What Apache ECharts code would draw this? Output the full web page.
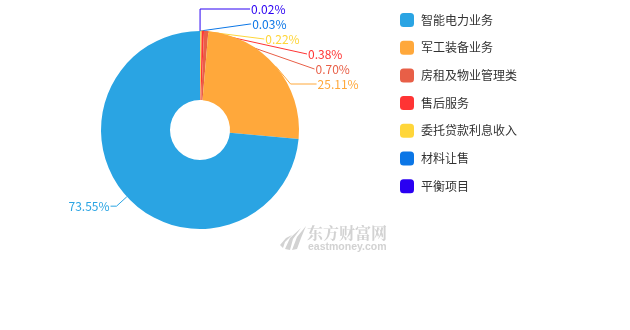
<!DOCTYPE html>
<html>
<head>
<meta charset="utf-8">
<script src="https://cdn.jsdelivr.net/npm/echarts@6/dist/echarts.min.js"></script>
<style>
  html, body { margin: 0; padding: 0; background: #fff; }
  #chart { width: 630px; height: 330px; }
</style>
</head>
<body>
<div id="chart"></div>
<script>
// Revenue composition by business line (share of total, %)
const categories = ['平衡项目', '材料让售', '委托贷款利息收入', '售后服务', '房租及物业管理类', '军工装备业务', '智能电力业务'];
const shares = [0.02, 0.03, 0.22, 0.38, 0.70, 25.11, 73.55];
const legendOrder = ['智能电力业务', '军工装备业务', '房租及物业管理类', '售后服务', '委托贷款利息收入', '材料让售', '平衡项目'];

// Slice colours, in the same order as the categories
const colors = ['#2a00f2', '#0b76e6', '#ffd63a', '#ff3434', '#e85f47', '#ffa83b', '#2aa4e3'];
// Leader-line segment lengths [length, length2] per slice, fanning the crowded small labels
const leaderLines = [[22, 50], [7, 1], [0, 0], [0, 31], [0, 30], [0, 26], [14, 6]];

const FONT = '"Microsoft YaHei", "Noto Sans CJK SC", sans-serif';
const MARK_GRAY = '#d2d2d2';

const chart = echarts.init(document.getElementById('chart'), null, { renderer: 'canvas' });

const pieData = categories.map((name, i) => ({
  name: name,
  value: shares[i],
  itemStyle: { color: colors[i] },
  label: { color: colors[i] },
  labelLine: {
    length: leaderLines[i][0],
    length2: leaderLines[i][1],
    lineStyle: { color: colors[i] }
  }
}));

chart.setOption({
  animation: false,
  textStyle: { fontFamily: FONT },
  legend: {
    orient: 'vertical',
    left: 395,
    top: 8,
    itemWidth: 14,
    itemHeight: 14,
    itemGap: 13.7,
    icon: 'roundRect',
    data: legendOrder,
    textStyle: { fontSize: 12, color: '#333', fontFamily: FONT, padding: [0, 0, 0, 2] }
  },
  graphic: [
    {
      // watermark emblem: three sweeping blades
      type: 'group',
      left: 280,
      top: 226,
      silent: true,
      children: [
        { type: 'polygon', shape: { points: [[1, 20], [7, 13], [13, 10], [6, 17], [4, 23]] }, style: { fill: MARK_GRAY } },
        { type: 'polygon', shape: { points: [[6, 24], [11, 13], [22, 3], [14, 14], [11, 25]] }, style: { fill: MARK_GRAY } },
        { type: 'polygon', shape: { points: [[13, 25], [18, 12], [27, 1], [22, 13], [18, 24]] }, style: { fill: MARK_GRAY } }
      ]
    },
    {
      type: 'text',
      left: 307,
      top: 225,
      silent: true,
      style: { text: '东方财富网', fontSize: 16, fontWeight: 'bold', fill: MARK_GRAY, fontFamily: '"Noto Serif CJK SC", ' + FONT }
    },
    {
      type: 'text',
      left: 308,
      top: 242,
      silent: true,
      style: { text: 'eastmoney.com', fontSize: 10.5, fontWeight: 'bold', fill: MARK_GRAY, fontFamily: 'Arial, "Liberation Sans", sans-serif' }
    }
  ],
  series: [{
    type: 'pie',
    center: [200, 130],
    radius: [30, 99],
    startAngle: 90,
    clockwise: true,
    avoidLabelOverlap: true,
    data: pieData,
    label: {
      show: true,
      position: 'outside',
      fontSize: 12,
      lineHeight: 13,
      distanceToLabelLine: 1,
      fontFamily: FONT,
      formatter: p => p.value.toFixed(2) + '%'
    },
    labelLine: {
      show: true,
      lineStyle: { width: 1 }
    },
    emphasis: { disabled: true }
  }]
});
</script>
</body>
</html>
